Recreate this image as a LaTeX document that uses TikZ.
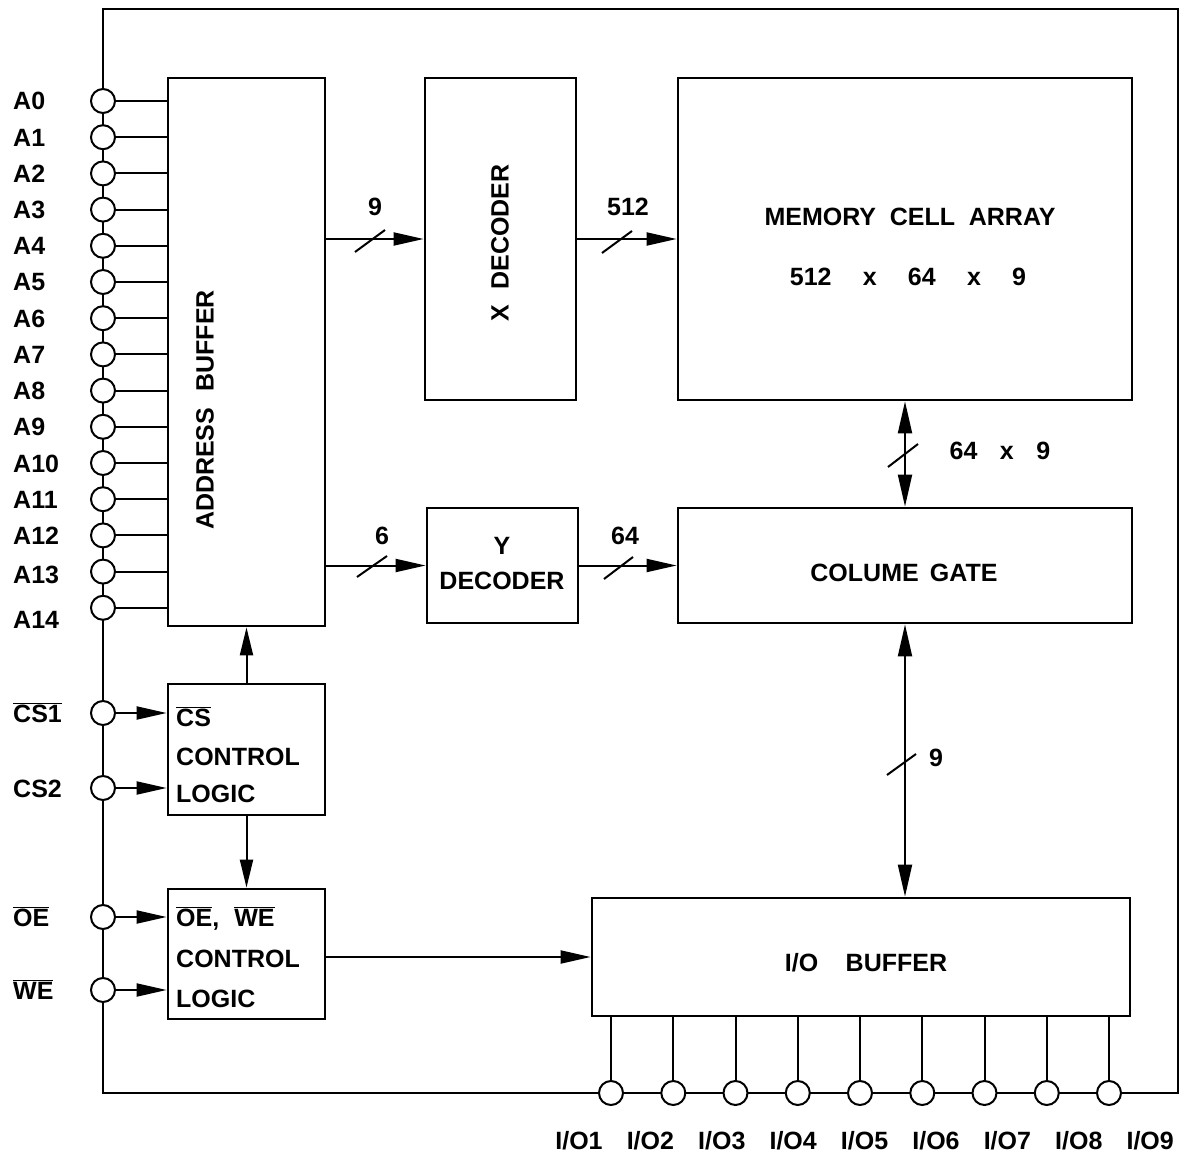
\documentclass[tikz,border=0pt]{standalone}
\usepackage{fontspec}
\setmainfont{Liberation Sans}
\usetikzlibrary{arrows.meta}
\newcommand{\gp}[1][0.6em]{\hspace{#1}}
\newcommand{\ovl}[1]{$\overline{\mbox{#1}}$}
\begin{document}
\begin{tikzpicture}[x=1pt,y=-1pt,
  every node/.style={font=\fontsize{25}{29}\selectfont\bfseries, inner sep=0pt},
  blk/.style={draw, line width=2.8pt, rectangle, fill=white},
  pinc/.style={draw, circle, line width=2pt, fill=white, minimum size=24pt},
  wire/.style={line width=2pt},
  sig/.style={line width=2pt, -{Triangle[length=30pt,width=13pt]}},
  sigup/.style={line width=2pt, -{Triangle[length=28pt,width=13pt]}},
  bus/.style={line width=2pt, {Triangle[length=32pt,width=14pt]}-{Triangle[length=32pt,width=14pt]}},
  slashmark/.style={line width=2pt},
  lbl/.style={anchor=base},
  pinl/.style={anchor=base west},
]
\useasboundingbox (0,0) rectangle (1184,1166);

% outer border
\draw[line width=2.8pt] (103,9) -- (1178,9) -- (1178,1093) -- (103,1093) -- cycle;

% blocks
\node[blk, minimum width=157pt, minimum height=548pt] (ab) at (246.5,352) {};
\node[blk, minimum width=151pt, minimum height=322pt] (xd) at (500.5,239) {};
\node[blk, minimum width=454pt, minimum height=322pt] (mem) at (905,239) {};
\node[blk, minimum width=151pt, minimum height=115pt] (yd) at (502.5,565.5) {};
\node[blk, minimum width=454pt, minimum height=115pt] (cg) at (905,565.5) {};
\node[blk, minimum width=157pt, minimum height=131pt] (cs) at (246.5,749.5) {};
\node[blk, minimum width=157pt, minimum height=130pt] (oe) at (246.5,954) {};
\node[blk, minimum width=538pt, minimum height=118pt] (io) at (861,957) {};

% block texts
\node[rotate=90] at (205,410) {ADDRESS\gp[0.65em]BUFFER};
\node[rotate=90] at (500,243) {X\gp[0.6em]DECODER};
\node[lbl] at (910,226) {MEMORY\gp[0.55em]CELL\gp[0.55em]ARRAY};
\node[lbl] at (908,286) {512\gp[1.25em]x\gp[1.25em]64\gp[1.25em]x\gp[1.25em]9};
\node[lbl] at (502,554) {Y};
\node[lbl] at (502,589) {DECODER};
\node[lbl] at (904,581) {COLUME\gp[0.45em]GATE};
\node[lbl] at (866,971) {I/O\gp[1.1em]BUFFER};
\node[pinl] at (176,726) {\ovl{CS}};
\node[pinl] at (176,765) {CONTROL};
\node[pinl] at (176,802) {LOGIC};
\node[pinl] at (176,926) {\ovl{OE},\hspace{0.6em}\ovl{WE}};
\node[pinl] at (176,967) {CONTROL};
\node[pinl] at (176,1007) {LOGIC};

% address pins
\foreach \i/\y/\ly in {0/101/101,1/137.2/137.2,2/173.4/173.4,3/209.6/209.6,4/245.8/245.8,
  5/282/282,6/318.2/318.2,7/354.4/354.4,8/390.6/390.6,9/426.8/426.8,10/463/463,
  11/499.2/499.2,12/535.4/535.4,13/571.6/574,14/607.8/619} {
  \node[pinc] (a\i) at (103,\y) {};
  \draw[wire] (a\i.east) -- (a\i.east -| ab.west);
  \node[pinl] at (13,\ly+9) {A\i};
}

% control pins
\node[pinc] (cs1) at (103,713) {};
\node[pinc] (cs2) at (103,788) {};
\node[pinc] (oep) at (103,917) {};
\node[pinc] (wep) at (103,990) {};
\node[pinl] at (13,722) {\ovl{CS1}};
\node[pinl] at (13,797) {CS2};
\node[pinl] at (13,926) {\ovl{OE}};
\node[pinl] at (13,999) {\ovl{WE}};
\draw[sig] (cs1.east) -- (cs1.east -| cs.west);
\draw[sig] (cs2.east) -- (cs2.east -| cs.west);
\draw[sig] (oep.east) -- (oep.east -| oe.west);
\draw[sig] (wep.east) -- (wep.east -| oe.west);

% internal connections
\draw[sig] (ab.east |- xd.west) -- (xd.west);
\draw[sig] (xd.east) -- (mem.west);
\draw[sig] (ab.east |- yd.west) -- (yd.west);
\draw[sig] (yd.east) -- (cg.west);
\draw[bus] (mem.south) -- (cg.north);
\draw[bus] (cg.south) -- (cg.south |- io.north);
\draw[sigup] (cs.north) -- (cs.north |- ab.south);
\draw[sigup] (cs.south) -- (cs.south |- oe.north);
\draw[sig] (oe.east |- io.west) -- (io.west);

% bus slashes and widths
\draw[slashmark] (355,252) -- (385,230);
\draw[slashmark] (602,253) -- (632,231);
\draw[slashmark] (357,577) -- (387,556);
\draw[slashmark] (604,579) -- (633,557);
\draw[slashmark] (888,467) -- (918,444);
\draw[slashmark] (887,775) -- (916,754);
\node[lbl] at (375,216) {9};
\node[lbl] at (628,216) {512};
\node[lbl] at (382,544) {6};
\node[lbl] at (625,544) {64};
\node[lbl] at (1000,459) {64\gp[0.9em]x\gp[0.9em]9};
\node[lbl] at (936,766) {9};

% I/O pins
\foreach \i/\x in {1/611,2/673.3,3/735.5,4/797.8,5/860,6/922.3,7/984.5,8/1046.8,9/1109} {
  \node[pinc] (io\i) at (\x,1093) {};
  \draw[wire] (io\i.north) -- (io\i.north |- io.south);
  \node[lbl] at (579+71.4*\i-71.4,1149) {I/O\i};
}
\end{tikzpicture}
\end{document}
